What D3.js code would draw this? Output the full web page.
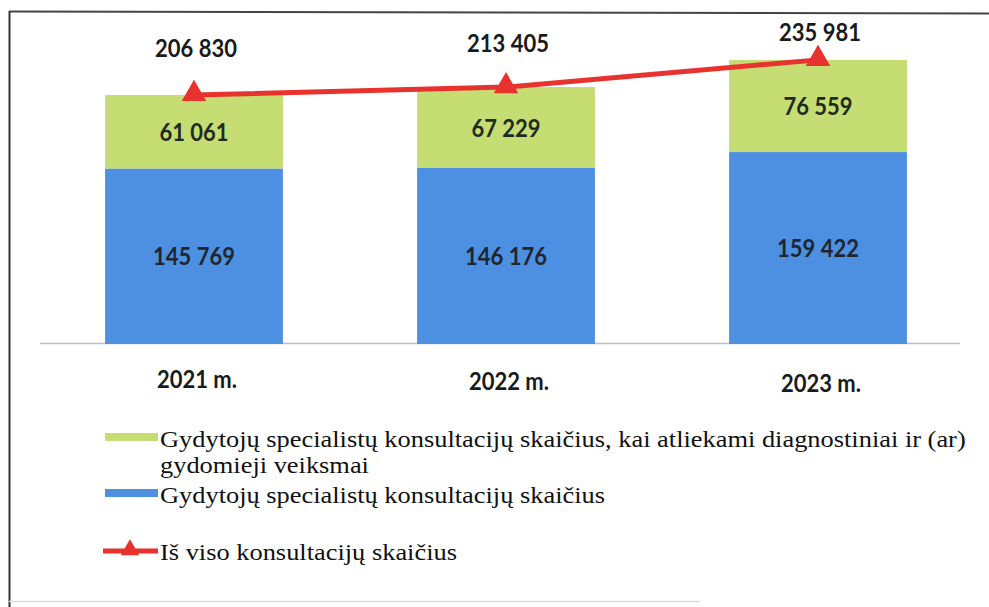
<!DOCTYPE html>
<html>
<head>
<meta charset="utf-8">
<script src="https://cdn.jsdelivr.net/npm/d3@7"></script>
<style>
  html, body { margin: 0; padding: 0; background: #fff; }
  svg { display: block; }
</style>
</head>
<body>
<svg id="chart" width="989" height="607"></svg>
<script>
// ---- data ----
const categories = ["2021 m.", "2022 m.", "2023 m."];
const baseConsults = [145769, 146176, 159422];
const diagConsults = [61061, 67229, 76559];
const totalConsults = [206830, 213405, 235981];
const seriesNames = [
  "Gydytojų specialistų konsultacijų skaičius, kai atliekami diagnostiniai ir (ar)",
  "gydomieji veiksmai",
  "Gydytojų specialistų konsultacijų skaičius",
  "Iš viso konsultacijų skaičius"
];
const fmt = v => d3.format(",")(v).replace(/,/g, " ");

// ---- styles ----
const colBlue = "#4d90e2";
const colGreen = "#c5dd72";
const colRed = "#e8322e";
const numFont = "Lato, 'Open Sans', sans-serif";
const serifFont = "'Liberation Serif', 'DejaVu Serif', serif";

const svg = d3.select("#chart");

// frame
svg.append("line").attr("x1", 9).attr("y1", 11.5).attr("x2", 989).attr("y2", 13.5)
  .attr("stroke", "#444").attr("stroke-width", 2);
svg.append("line").attr("x1", 9.5).attr("y1", 11).attr("x2", 9.5).attr("y2", 607)
  .attr("stroke", "#333").attr("stroke-width", 2);
svg.append("line").attr("x1", 9).attr("y1", 601.5).attr("x2", 700).attr("y2", 601.5)
  .attr("stroke", "#ddd").attr("stroke-width", 1.5);

const x = d3.scaleBand().domain(categories).range([38, 974])
  .paddingInner(0.43).paddingOuter(0.215);
const y = d3.scaleLinear().domain([0, 250000]).range([344, 43]);

// axis baseline
svg.append("line").attr("x1", 40).attr("x2", 960).attr("y1", 343.5).attr("y2", 343.5)
  .attr("stroke", "#bdbdbd").attr("stroke-width", 1.5);

function numText(sel, tx, ty, t, fill) {
  return sel.append("text")
    .attr("transform", `translate(${tx},${ty}) scale(1,1.12)`)
    .attr("text-anchor", "middle").attr("font-family", numFont).attr("font-weight", 700)
    .attr("font-size", 22).attr("fill", fill).text(t);
}

// bars
const g = svg.append("g");
categories.forEach((c, i) => {
  g.append("rect").attr("x", x(c)).attr("width", x.bandwidth())
    .attr("y", y(baseConsults[i])).attr("height", y(0) - y(baseConsults[i]))
    .attr("fill", colBlue);
  g.append("rect").attr("x", x(c)).attr("width", x.bandwidth())
    .attr("y", y(baseConsults[i] + diagConsults[i]))
    .attr("height", y(baseConsults[i]) - y(baseConsults[i] + diagConsults[i]))
    .attr("fill", colGreen);
  numText(g, x(c) + x.bandwidth() / 2, (y(0) + y(baseConsults[i])) / 2 + 9,
    fmt(baseConsults[i]), "#1f2630");
  numText(g, x(c) + x.bandwidth() / 2,
    (y(baseConsults[i]) + y(baseConsults[i] + diagConsults[i])) / 2 + 9,
    fmt(diagConsults[i]), "#1f2a20");
  numText(g, x(c) + x.bandwidth() / 2 + 3, 388 + i * 2, c, "#1a1a1a");
});

// total line
const cx = c => x(c) + x.bandwidth() / 2;
const line = d3.line().x((d, i) => cx(categories[i])).y(d => y(d));
svg.append("path").datum(totalConsults).attr("d", line)
  .attr("fill", "none").attr("stroke", colRed).attr("stroke-width", 5);
const tri = d3.symbol(d3.symbolTriangle, 260);
totalConsults.forEach((v, i) => {
  svg.append("path").attr("d", tri)
    .attr("transform", `translate(${cx(categories[i])},${y(v) - 1})`)
    .attr("fill", colRed);
});
const labelDy = [-38, -35, -19];
totalConsults.forEach((v, i) => {
  numText(svg, cx(categories[i]) + 2, y(v) + labelDy[i], fmt(v), "#1a1a1a");
});

// legend
const lg = svg.append("g");
lg.append("rect").attr("x", 105).attr("y", 433).attr("width", 53).attr("height", 8).attr("fill", colGreen);
lg.append("rect").attr("x", 105).attr("y", 489).attr("width", 53).attr("height", 8).attr("fill", colBlue);
lg.append("line").attr("x1", 103).attr("x2", 158).attr("y1", 551).attr("y2", 551)
  .attr("stroke", colRed).attr("stroke-width", 5);
lg.append("path").attr("d", d3.symbol(d3.symbolTriangle, 150))
  .attr("transform", "translate(130,550)").attr("fill", colRed);
const legText = [
  [seriesNames[0], 447],
  [seriesNames[1], 473],
  [seriesNames[2], 503],
  [seriesNames[3], 560]
];
legText.forEach(([t, yy]) => {
  lg.append("text").attr("transform", `translate(160,${yy}) scale(1.124,1)`)
    .attr("font-family", serifFont)
    .attr("font-size", 23.5).attr("fill", "#111").text(t);
});
</script>
</body>
</html>
